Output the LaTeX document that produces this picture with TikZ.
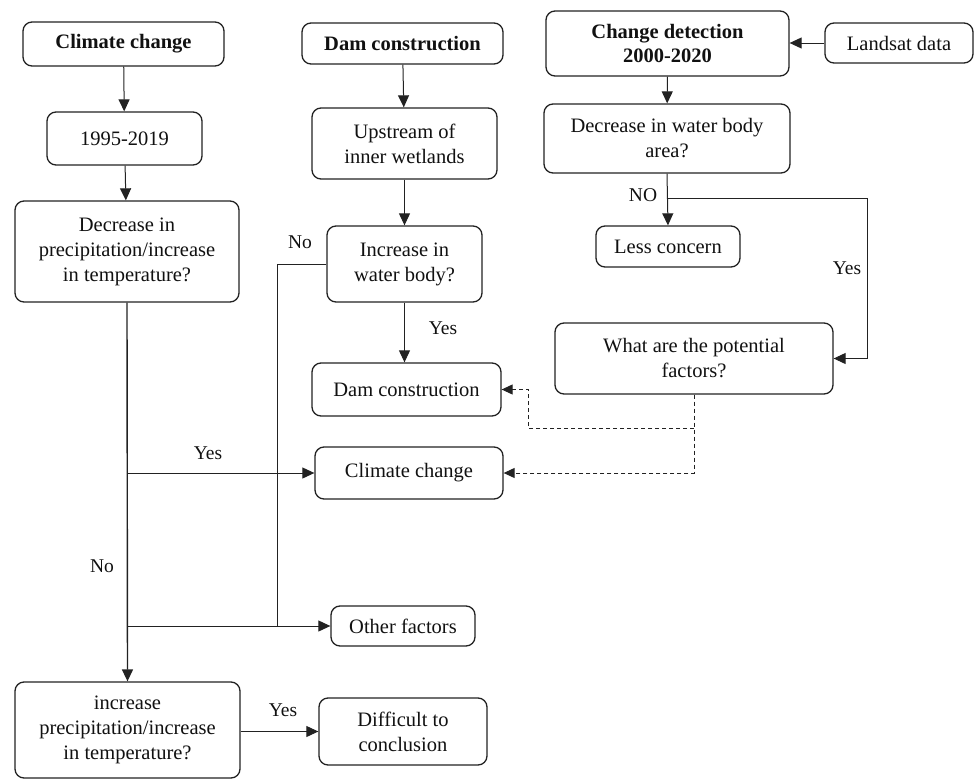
\documentclass[tikz,border=0pt]{standalone}
\usepackage{fontspec}
\setmainfont{Liberation Serif}
\usetikzlibrary{arrows.meta,positioning,calc}
\definecolor{inkline}{HTML}{222222}
\definecolor{inktext}{HTML}{111111}
\tikzset{
  flowbox/.style={draw=inkline, line width=1.3pt, rounded corners=9pt, fill=white,
                  inner sep=2pt, align=center, text=inktext,
                  font=\fontsize{20.5}{25}\selectfont},
  headbox/.style={flowbox, font=\fontsize{20.5}{24}\selectfont\bfseries},
  lbl/.style={text=inktext, font=\fontsize{19.5}{22}\selectfont, inner sep=1pt},
  arr/.style={-{Triangle[length=12pt, width=11pt]}, line width=1pt, color=inkline},
  ln/.style={line width=1pt, color=inkline},
  darr/.style={-{Triangle[length=11pt, width=10pt]}, line width=1pt, color=inkline,
               dash pattern=on 4pt off 3pt}}
\begin{document}
\begin{tikzpicture}[x=1pt, y=-1pt]
  \useasboundingbox (0,0) rectangle (975,779);

  % climate column
  \node[headbox, minimum width=201pt, minimum height=44pt] (cc) at (123.5,44) {Climate change};
  \node[flowbox, minimum width=155pt, minimum height=53pt] (yrs) at (124.5,138.5) {1995-2019};
  \node[flowbox, minimum width=224pt, minimum height=101pt] (dprec) at (127,251.5)
    {Decrease in\\precipitation/increase\\in temperature?};
  \node[flowbox, minimum width=225pt, minimum height=96pt] (iprec) at (127.5,730)
    {increase\\precipitation/increase\\in temperature?};

  % dam column
  \node[headbox, minimum width=201pt, minimum height=41pt] (dam) at (402.5,43.5) {Dam construction};
  \node[flowbox, minimum width=185pt, minimum height=71pt] (up) at (404.5,143.5) {Upstream of\\inner wetlands};
  \node[flowbox, minimum width=155pt, minimum height=76pt] (incw) at (404.5,264) {Increase in\\water body?};
  \node[flowbox, minimum width=189pt, minimum height=53pt] (damf) at (406.5,389.5) {Dam construction};
  \node[flowbox, minimum width=188pt, minimum height=52pt] (ccf) at (409,473) {Climate change};
  \node[flowbox, minimum width=144pt, minimum height=40pt] (oth) at (403,626) {Other factors};
  \node[flowbox, minimum width=168pt, minimum height=67pt] (diff) at (403,731.5) {Difficult to\\conclusion};

  % detection column
  \node[headbox, minimum width=243pt, minimum height=65pt] (cd) at (667.5,43.5) {Change detection\\2000-2020};
  \node[flowbox, minimum width=148pt, minimum height=40pt] (land) at (899,43) {Landsat data};
  \node[flowbox, minimum width=246pt, minimum height=69pt] (dwb) at (667,138.5) {Decrease in water body\\area?};
  \node[flowbox, minimum width=144pt, minimum height=41pt] (less) at (668,246.5) {Less concern};
  \node[flowbox, minimum width=278pt, minimum height=71pt] (pot) at (694,358.5) {What are the potential\\factors?};

  \coordinate (nobend) at (277,626);
  \coordinate (nobr) at (668,198);
  \coordinate (ycorner) at (867,198);
  \coordinate (dbr) at (694,428);
  \coordinate (dcorner) at (528,428);

  \draw[arr] (cc) -- (yrs);
  \draw[arr] (yrs) -- (dprec);
  \draw[arr, line width=1.4pt] (dprec.south) -- (iprec.north);
  \draw[arr] (dprec.south |- ccf.west) -- (ccf.west);
  \draw[arr] (dprec.south |- oth.west) -- (oth.west);
  \draw[arr] (iprec.east |- diff.west) -- (diff.west);

  \draw[arr] (dam) -- (up);
  \draw[arr] (up) -- (incw);
  \draw[arr] (incw.south) -- (incw.south |- damf.north);
  \draw[ln] (incw.west) -| (nobend);

  \draw[arr] (land.west) -- (cd.east |- land.west);
  \draw[arr] (cd) -- (dwb);
  \draw[arr] (dwb.south) -- (less.north);
  \draw[arr] (nobr) -- (ycorner) |- (pot.east);

  \draw[darr] (pot.south) |- (ccf.east);
  \draw[darr] (dbr) -- (dcorner) |- (damf.east);

  \node[lbl] at (208,453) {Yes};
  \node[lbl] at (102,566) {No};
  \node[lbl] at (283,710) {Yes};
  \node[lbl] at (300,242) {No};
  \node[lbl] at (443,328) {Yes};
  \node[lbl] at (643,195) {NO};
  \node[lbl] at (847,268) {Yes};
\end{tikzpicture}
\end{document}
